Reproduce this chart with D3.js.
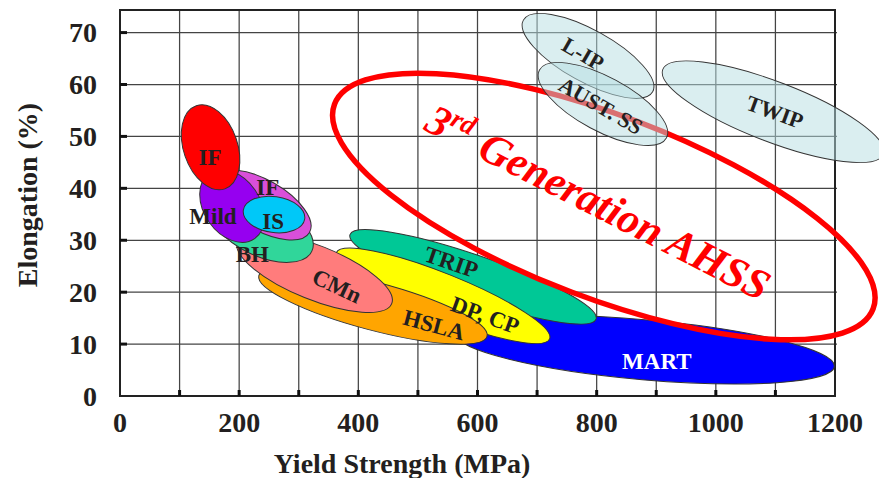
<!DOCTYPE html>
<html><head><meta charset="utf-8">
<script src="https://cdn.jsdelivr.net/npm/d3@7"></script>
<style>
html,body{margin:0;padding:0;background:#fff;}
text{font-family:"Liberation Serif","Times New Roman",serif;font-weight:bold;}
</style></head>
<body>
<svg id="chart" width="879" height="478"></svg>
<script>
// ---- data ----
const xTicks = [0, 200, 400, 600, 800, 1000, 1200];
const xMinorTicks = [100, 200, 300, 400, 500, 600, 700, 800, 900, 1000, 1100];
const yTicks = [0, 10, 20, 30, 40, 50, 60, 70];

// steel grade regions: ends of the long axis (yield MPa, elongation %)
const grades   = ["MART", "TRIP", "DP, CP", "HSLA", "CMn", "BH", "IF", "Mild", "IS", "IF"];
const ysStart  = [563, 386, 363, 233, 197, 155, 158, 150, 207, 128];
const elStart  = [12.1, 31.1, 27.6, 23.2, 29.8, 36.8, 42.1, 42.9, 35.8, 55.9];
const ysEnd    = [1199, 799, 721, 616, 456, 322, 318, 226, 310, 176];
const elEnd    = [5.7, 14.8, 11.0, 11.5, 17.8, 27.9, 31.5, 30.3, 34.1, 39.9];
const labelYS  = [901, 556, 613, 527, 364, 222, 248, 156, 257, 151];
const labelEl  = [6.7, 25.8, 15.6, 13.7, 21.2, 27.4, 40.3, 34.7, 33.7, 46.0];

// austenitic / high alloy regions
const hiGrades  = ["L-IP", "AUST. SS", "TWIP"];
const hiYsStart = [677, 704, 911];
const hiElStart = [72.4, 62.8, 62.9];
const hiYsEnd   = [894, 917, 1281];
const hiElEnd   = [58.6, 49.7, 46.6];
const hiLabelYS = [777, 807, 1099];
const hiLabelEl = [65.9, 55.9, 54.7];

// 3rd generation AHSS target region
const genYsStart = 360, genElStart = 56.2, genYsEnd = 1264, genElEnd = 16.8;
const genLabelYS = 508, genLabelEl = 51.4;

// ---- styles ----
const fills   = ["#0000ff", "#00c896", "#ffff00", "#ffa500", "#ff7c7c", "#30d69a", "#d94fd9", "#9600f0", "#00c8f8", "#ff0000"];
const halfW   = [30, 22, 22, 24, 27, 28, 25, 28, 18, 27];
const lblRot  = [0, 19, 20, 15, 25, 0, 0, 0, 0, 0];
const lblCol  = ["#ffffff", "#231f20", "#231f20", "#231f20", "#231f20", "#231f20", "#231f20", "#231f20", "#231f20", "#231f20"];
const hiHalfW = [26, 27, 30];
const hiRot   = [30, 30, 20];

const svg = d3.select("#chart");
const L = 120, R = 835, T = 10, B = 396;
const x = d3.scaleLinear().domain([0, 1200]).range([L, R]);
const y = d3.scaleLinear().domain([0, 74.35]).range([B, T]);
const ink = "#231f20";

// grid
const grid = svg.append("g");
grid.selectAll("line.v").data(xMinorTicks.filter(d => d < 1200)).enter().append("line")
  .attr("x1", d => x(d)).attr("x2", d => x(d)).attr("y1", T).attr("y2", B)
  .attr("stroke", "#444").attr("stroke-width", 1.25);
grid.selectAll("line.h").data(yTicks.filter(d => d > 0)).enter().append("line")
  .attr("x1", L).attr("x2", R + 2).attr("y1", d => y(d)).attr("y2", d => y(d))
  .attr("stroke", "#444").attr("stroke-width", 1.25);

function ell(g, x1, y1, x2, y2, hw) {
  const px1 = x(x1), py1 = y(y1), px2 = x(x2), py2 = y(y2);
  const cx = (px1 + px2) / 2, cy = (py1 + py2) / 2;
  const a = Math.hypot(px2 - px1, py2 - py1) / 2;
  const ang = Math.atan2(py2 - py1, px2 - px1) * 180 / Math.PI;
  return g.append("ellipse").attr("cx", cx).attr("cy", cy).attr("rx", a).attr("ry", hw)
    .attr("transform", `rotate(${ang} ${cx} ${cy})`);
}

// frame
const frame = svg.append("g");
frame.append("rect").attr("x", L).attr("y", T).attr("width", R - L).attr("height", B - T)
  .attr("fill", "none").attr("stroke", "#222").attr("stroke-width", 2);

// ticks (inside)
const axes = svg.append("g");
axes.selectAll("line.xt").data(xMinorTicks.filter(d => d < 1200)).enter().append("line")
  .attr("x1", d => x(d)).attr("x2", d => x(d)).attr("y1", B).attr("y2", B - 6)
  .attr("stroke", "#111").attr("stroke-width", 3);
axes.selectAll("line.yt").data(yTicks.filter(d => d > 0)).enter().append("line")
  .attr("x1", L).attr("x2", L + 7).attr("y1", d => y(d)).attr("y2", d => y(d))
  .attr("stroke", "#111").attr("stroke-width", 3);
axes.selectAll("text.xl").data(xTicks).enter().append("text")
  .attr("x", d => x(d)).attr("y", 432).attr("text-anchor", "middle")
  .attr("font-size", 28).attr("fill", ink).text(d => d);
axes.selectAll("text.yl").data(yTicks).enter().append("text")
  .attr("x", 97).attr("y", d => y(d) + 9.5).attr("text-anchor", "end")
  .attr("font-size", 28).attr("fill", ink).text(d => d);
axes.append("text").attr("x", 402).attr("y", 473).attr("text-anchor", "middle")
  .attr("font-size", 28).attr("fill", ink).text("Yield Strength (MPa)");
axes.append("text").attr("transform", "translate(37,195) rotate(-90)").attr("text-anchor", "middle")
  .attr("font-size", 28).attr("fill", ink).text("Elongation (%)");

// grade regions
const regions = svg.append("g");
grades.forEach((g, i) => {
  ell(regions, ysStart[i], elStart[i], ysEnd[i], elEnd[i], halfW[i])
    .attr("fill", fills[i]).attr("stroke", "#333").attr("stroke-width", 1);
});

// 3rd generation ellipse
ell(svg, genYsStart, genElStart, genYsEnd, genElEnd, 91.5)
  .attr("fill", "none").attr("stroke", "#ff0000").attr("stroke-width", 5.5);
const gx = x(genLabelYS), gy = y(genLabelEl);
const gt = svg.append("text").attr("transform", `translate(${gx},${gy}) rotate(27)`)
  .attr("fill", "#ff0000").attr("font-style", "italic").attr("font-size", 43);
gt.append("tspan").text("3");
gt.append("tspan").attr("font-size", 27).attr("dy", -16).text("rd");
gt.append("tspan").attr("dy", 16).attr("dx", 14).text("Generation AHSS");

// grade labels
const labels = svg.append("g");
grades.forEach((g, i) => {
  const lx = x(labelYS[i]), ly = y(labelEl[i]);
  labels.append("text").attr("transform", `translate(${lx},${ly}) rotate(${lblRot[i]})`)
    .attr("text-anchor", "middle").attr("dy", "0.34em").attr("font-size", 23)
    .attr("fill", lblCol[i]).text(g);
});

// high alloy regions
const hi = svg.append("g");
hiGrades.forEach((g, i) => {
  ell(hi, hiYsStart[i], hiElStart[i], hiYsEnd[i], hiElEnd[i], hiHalfW[i])
    .attr("fill", "rgb(181,221,225)").attr("fill-opacity", 0.5)
    .attr("stroke", "#333").attr("stroke-width", 0.9);
});
hiGrades.forEach((g, i) => {
  const lx = x(hiLabelYS[i]), ly = y(hiLabelEl[i]);
  hi.append("text").attr("transform", `translate(${lx},${ly}) rotate(${hiRot[i]})`)
    .attr("text-anchor", "middle").attr("dy", "0.34em").attr("font-size", 22)
    .attr("fill", ink).text(g);
});
</script>
</body></html>
